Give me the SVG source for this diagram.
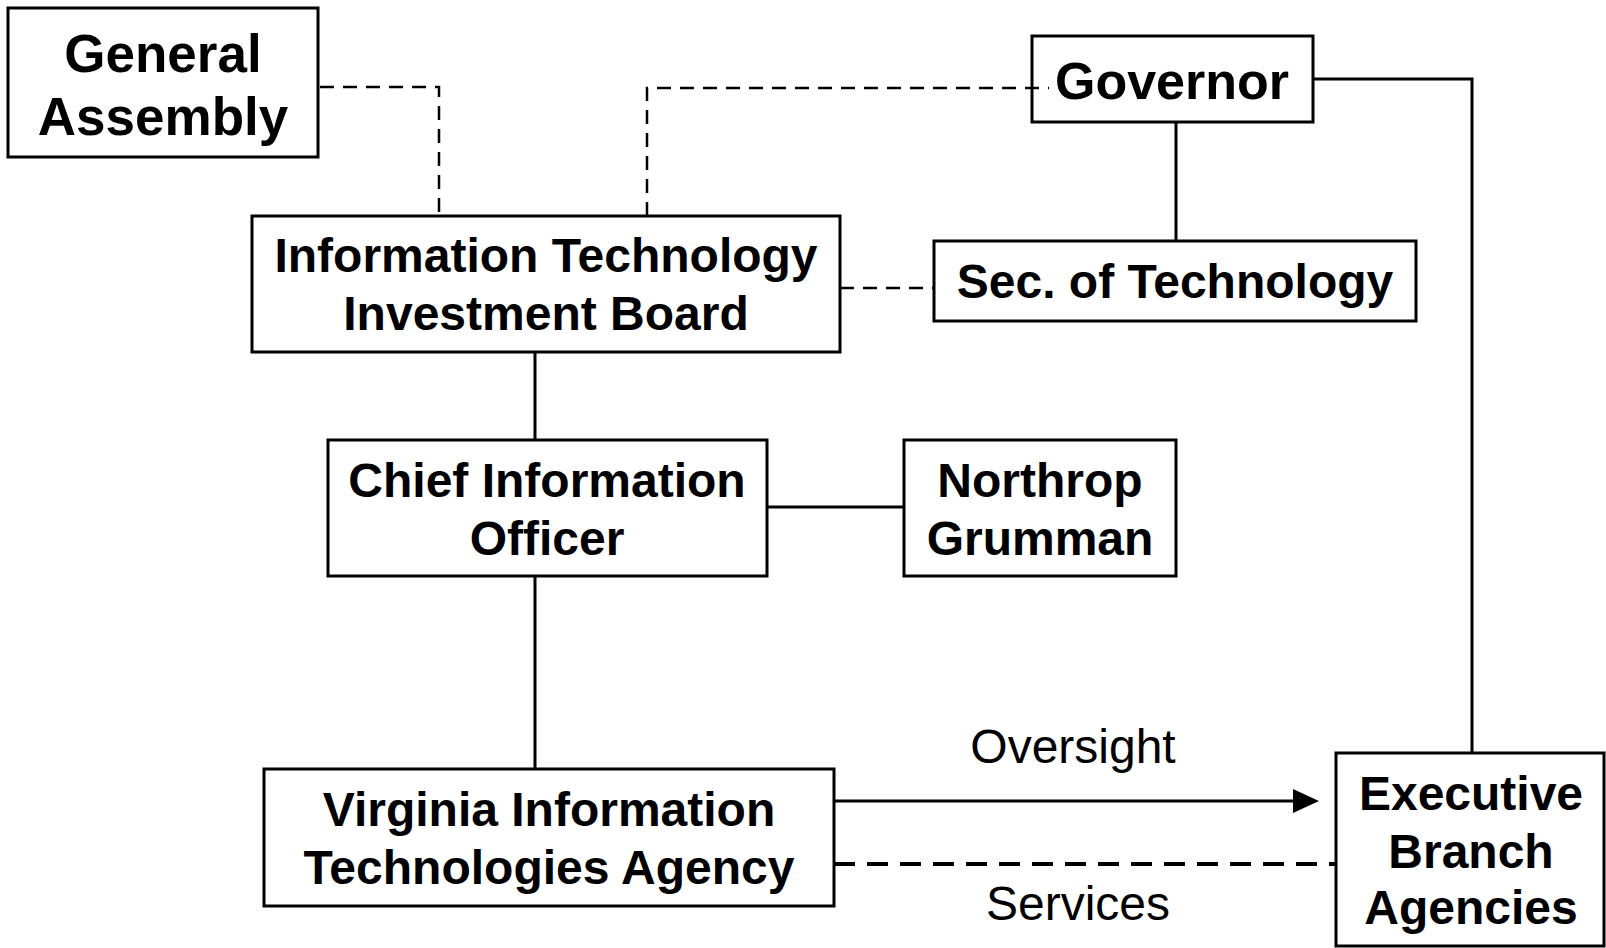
<svg xmlns="http://www.w3.org/2000/svg" width="1606" height="948" viewBox="0 0 1606 948">
<style>
.box{fill:#fff;stroke:#000;stroke-width:3}
.t{font-family:"Liberation Sans",Arial,sans-serif;font-weight:bold;font-size:48px;text-anchor:middle;fill:#000}
.big{font-size:53px}
.lbl{font-family:"Liberation Sans",Arial,sans-serif;font-size:48px;text-anchor:middle;fill:#000}
.ln{fill:none;stroke:#000;stroke-width:3}
.dash{fill:none;stroke:#000;stroke-width:2.5;stroke-dasharray:14 9}
.dash2{fill:none;stroke:#000;stroke-width:4;stroke-dasharray:21 12}
</style>
<defs>
<marker id="arr" markerUnits="userSpaceOnUse" markerWidth="26" markerHeight="26" refX="12" refY="12" orient="auto">
<path d="M0,0 L26,12 L0,24 Z" fill="#000"/>
</marker>
</defs>
<g id="connectors">
<path class="dash" d="M320,87 H439 V216"/>
<path class="dash" d="M647,216 V88 H1049"/>
<path class="dash" d="M840,288 H934"/>
<path class="ln" d="M1176,122 V241"/>
<path class="ln" d="M1313,79 H1472 V753"/>
<path class="ln" d="M535,352 V440"/>
<path class="ln" d="M767,507 H904"/>
<path class="ln" d="M535,576 V769"/>
<path class="ln" d="M834,801 H1305" marker-end="url(#arr)"/>
<path class="dash2" d="M834,864 H1336"/>
<text class="lbl" x="1073" y="763">Oversight</text>
<text class="lbl" x="1078" y="920">Services</text>
</g>
<g id="general-assembly">
<rect class="box" x="8" y="8" width="310" height="149"/>
<text class="t big" x="163" y="72">General</text>
<text class="t big" x="163" y="135">Assembly</text>
</g>
<g id="governor">
<rect class="box" x="1032" y="36" width="281" height="86" style="fill:none"/>
<text class="t" x="1172" y="99" style="font-size:52px">Governor</text>
</g>
<g id="itib">
<rect class="box" x="252" y="216" width="588" height="136"/>
<text class="t" x="546" y="272">Information Technology</text>
<text class="t" x="546" y="330">Investment Board</text>
</g>
<g id="sec-tech">
<rect class="box" x="934" y="241" width="482" height="80"/>
<text class="t" x="1175" y="298">Sec. of Technology</text>
</g>
<g id="cio">
<rect class="box" x="328" y="440" width="439" height="136"/>
<text class="t" x="547" y="497">Chief Information</text>
<text class="t" x="547" y="555">Officer</text>
</g>
<g id="northrop">
<rect class="box" x="904" y="440" width="272" height="136"/>
<text class="t" x="1040" y="497">Northrop</text>
<text class="t" x="1040" y="555">Grumman</text>
</g>
<g id="vita">
<rect class="box" x="264" y="769" width="570" height="137"/>
<text class="t" x="549" y="826">Virginia Information</text>
<text class="t" x="549" y="884">Technologies Agency</text>
</g>
<g id="exec-branch">
<rect class="box" x="1336" y="753" width="268" height="193"/>
<text class="t" x="1471" y="810">Executive</text>
<text class="t" x="1471" y="868">Branch</text>
<text class="t" x="1471" y="924">Agencies</text>
</g>
</svg>
